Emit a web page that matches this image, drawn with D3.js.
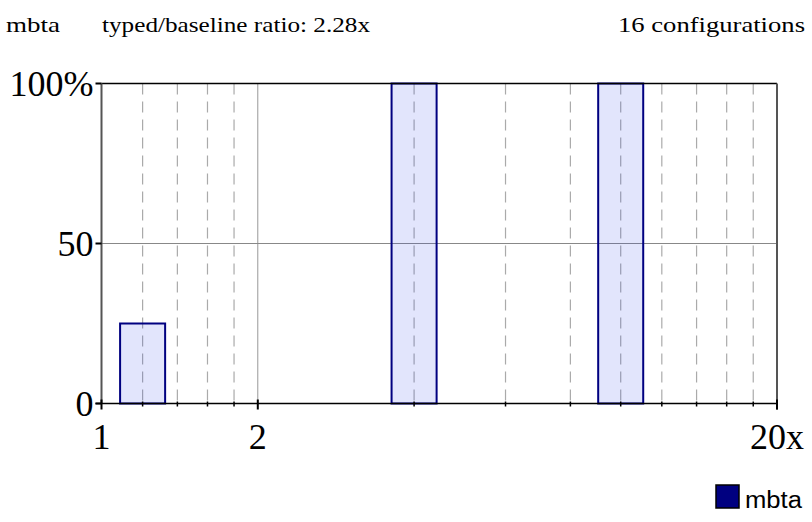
<!DOCTYPE html>
<html><head><meta charset="utf-8">
<script src="https://cdn.jsdelivr.net/npm/d3@7"></script>
<style>body{margin:0;background:#fff}svg{display:block}</style>
</head><body><svg id="c" width="812" height="522"></svg>
<script>
const title = "mbta";
const subtitle = "typed/baseline ratio: 2.28x";
const configs = "16 configurations";
const barCenters = [1.2, 4, 10];
const barValues = [25, 100, 100];
const xTickVals = [1, 2, 20];
const xTickLabels = ["1", "2", "20x"];
const minorVals = [1.2, 1.4, 1.6, 1.8, 4, 6, 8, 10, 12, 14, 16, 18];
const yTickVals = [0, 50, 100];
const yTickLabels = ["0", "50", "100%"];
const legendLabel = "mbta";

const svg = d3.select("#c");
const L = 101.5, R = 777, T = 83.5, B = 403.5;
const x = d3.scaleLog().domain([1, 20]).range([L, R]);
const y = d3.scaleLinear().domain([0, 100]).range([B, T]);
const serif = "'Liberation Serif', 'Times New Roman', serif";

// gridlines
svg.append("g").selectAll("line").data(minorVals).join("line")
  .attr("x1", d => x(d)).attr("x2", d => x(d)).attr("y1", T).attr("y2", B)
  .attr("stroke", "#aaa").attr("stroke-width", 1.2).attr("stroke-dasharray", "11,7");
svg.append("line").attr("x1", x(2)).attr("x2", x(2)).attr("y1", T).attr("y2", B)
  .attr("stroke", "#999").attr("stroke-width", 1);
svg.append("line").attr("x1", L).attr("x2", R).attr("y1", y(50)).attr("y2", y(50))
  .attr("stroke", "#888").attr("stroke-width", 1);

// bars (translucent so grid shows through)
const f = 1.105;
svg.append("g").selectAll("rect").data(barCenters).join("rect")
  .attr("x", d => x(d / f)).attr("width", d => x(d * f) - x(d / f))
  .attr("y", (d, i) => y(barValues[i])).attr("height", (d, i) => B - y(barValues[i]))
  .attr("fill", "#3344e8").attr("fill-opacity", 0.14)
  .attr("stroke", "#000080").attr("stroke-width", 2);

// frame
svg.append("line").attr("x1", L).attr("x2", R).attr("y1", T).attr("y2", T).attr("stroke", "#000").attr("stroke-width", 1.5);
svg.append("line").attr("x1", L).attr("x2", L).attr("y1", T).attr("y2", B).attr("stroke", "#555").attr("stroke-width", 2);
svg.append("line").attr("x1", R).attr("x2", R).attr("y1", T).attr("y2", B + 6).attr("stroke", "#555").attr("stroke-width", 2);

// x axis
const xAxis = svg.append("g").attr("transform", `translate(0,${B})`);
xAxis.append("line").attr("x1", L - 6).attr("x2", R).attr("stroke", "#000").attr("stroke-width", 1.5);
xAxis.selectAll("line.mt").data(minorVals).join("line").attr("class", "mt")
  .attr("x1", d => x(d)).attr("x2", d => x(d)).attr("y1", -2).attr("y2", 3)
  .attr("stroke", "#000").attr("stroke-width", 1.5);
xAxis.selectAll("line.Mt").data(xTickVals).join("line").attr("class", "Mt")
  .attr("x1", d => x(d)).attr("x2", d => x(d)).attr("y1", -4).attr("y2", 6)
  .attr("stroke", "#000").attr("stroke-width", 2);
xAxis.selectAll("text").data(xTickVals).join("text")
  .attr("x", d => x(d)).attr("y", 45).attr("text-anchor", "middle")
  .attr("font-family", serif).attr("font-size", 36).attr("fill", "#000")
  .text((d, i) => xTickLabels[i]);

// y axis
const yAxis = svg.append("g");
yAxis.selectAll("line").data(yTickVals).join("line")
  .attr("x1", L - 6).attr("x2", L).attr("y1", d => y(d)).attr("y2", d => y(d))
  .attr("stroke", "#000").attr("stroke-width", 2);
yAxis.selectAll("text").data(yTickVals).join("text")
  .attr("x", L - 8).attr("y", d => y(d) + 12).attr("text-anchor", "end")
  .attr("font-family", serif).attr("font-size", 36).attr("fill", "#000")
  .text((d, i) => yTickLabels[i]);

// titles (glyphs are horizontally stretched in the reference)
svg.append("text").attr("x", 6).attr("y", 32).attr("font-family", serif).attr("font-size", 21.5)
  .attr("textLength", 54).attr("lengthAdjust", "spacingAndGlyphs").text(title);
svg.append("text").attr("x", 102).attr("y", 32).attr("font-family", serif).attr("font-size", 21.5)
  .attr("textLength", 268).attr("lengthAdjust", "spacingAndGlyphs").text(subtitle);
svg.append("text").attr("x", 618).attr("y", 32).attr("font-family", serif).attr("font-size", 21.5)
  .attr("textLength", 187).attr("lengthAdjust", "spacingAndGlyphs").text(configs);

// legend
svg.append("rect").attr("x", 716).attr("y", 485).attr("width", 23).attr("height", 23)
  .attr("fill", "#000080").attr("stroke", "#000").attr("stroke-width", 1.5);
svg.append("text").attr("x", 745).attr("y", 508).attr("font-family", "'Liberation Sans', Arial, sans-serif")
  .attr("font-size", 23).attr("textLength", 57).attr("lengthAdjust", "spacingAndGlyphs").text(legendLabel);
</script></body></html>
